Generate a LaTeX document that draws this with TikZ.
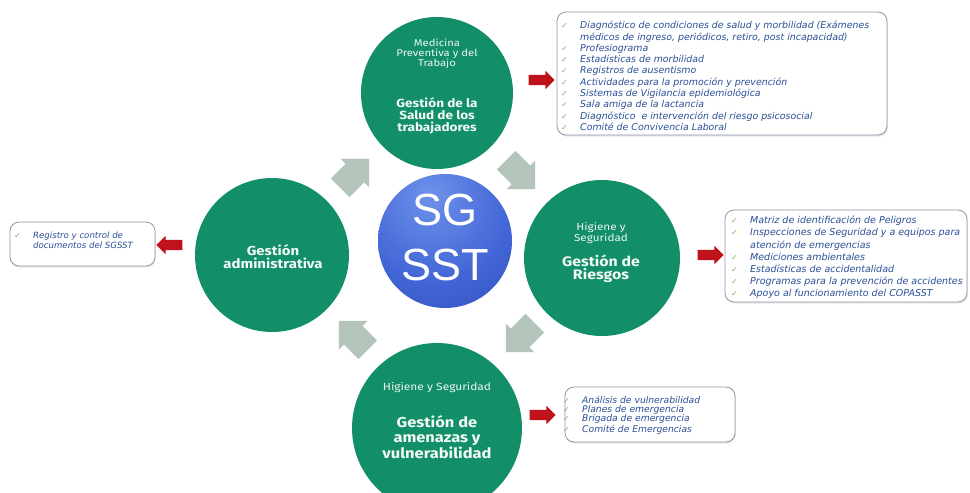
\documentclass[tikz,border=0pt]{standalone}
\usepackage{fontspec}
\setmainfont{Fira Sans}
\newfontfamily\circfont[FakeStretch=1.15]{Fira Sans}
\newfontfamily\listfont{DejaVu Sans}
\newfontfamily\sgfont{Liberation Sans}
\usetikzlibrary{shapes.arrows,shadows}

\definecolor{circgreen}{HTML}{128F68}
\definecolor{flowgray}{HTML}{B3C5BB}
\definecolor{listblue}{HTML}{2A4F96}
\definecolor{tickgreen}{HTML}{7DB86A}
\definecolor{boxedge}{HTML}{8C97A8}
\definecolor{pointred}{HTML}{C0121B}
\definecolor{sgtop}{HTML}{6E92EA}
\definecolor{sgmid}{HTML}{4266D6}
\definecolor{sgbot}{HTML}{2642AA}

\pgfdeclareradialshading{sgball}{\pgfpoint{-6bp}{18bp}}{%
  color(0bp)=(sgtop); color(28bp)=(sgmid); color(62bp)=(sgbot); color(100bp)=(sgbot)}

% one checked line of a list, and the indent of its wrapped continuation
\newcommand\chkline[1]{\makebox[19pt][l]{\upshape\fontsize{8}{8}\selectfont\color{tickgreen}✓}#1}
\newcommand\contline[1]{\hspace*{19pt}#1}

\tikzset{
  stage/.style={circle, fill=circgreen, draw=none, minimum size=#1, inner sep=0pt},
  core/.style={circle, shading=sgball, draw=none, minimum size=#1, inner sep=0pt},
  subtxt/.style n args={2}{text=white!92!circgreen, align=center, inner sep=0pt,
    font=\circfont\fontsize{#1}{#2}\selectfont},
  titletxt/.style n args={2}{text=white!95!circgreen, align=center, inner sep=0pt,
    font=\circfont\bfseries\fontsize{#1}{#2}\selectfont},
  flow/.style={single arrow, fill=flowgray, draw=none, minimum height=41pt,
    single arrow head extend=7pt, inner xsep=0pt, inner ysep=13pt,
    single arrow tip angle=90},
  pointer/.style={single arrow, fill=pointred, draw=none, minimum height=26pt,
    single arrow head extend=4pt, inner xsep=0pt, inner ysep=5pt},
  listbox/.style={draw=boxedge, line width=0.8pt, fill=white, rounded corners=9pt,
    drop shadow={opacity=0.18, shadow xshift=0.8pt, shadow yshift=-1.6pt}},
  listtxt/.style n args={2}{anchor=north west, align=left, inner sep=0pt, text=listblue,
    font=\listfont\itshape\fontsize{#1}{#2}\selectfont},
}

\begin{document}
\begin{tikzpicture}[x=1pt, y=-1pt]
\useasboundingbox[fill=white] (0,0) rectangle (970,493);

% list panels
\draw[listbox] (557,12) rectangle (887,135);
\draw[listbox] (725,210) rectangle (967,302);
\draw[listbox] (565,387) rectangle (735,442);
\draw[listbox] (10,222) rectangle (155,266);

% circular flow arrows between the stages
\node[flow, rotate=45]   (f1) at (350,178) {};
\node[flow, rotate=-45]  (f2) at (516,170) {};
\node[flow, rotate=-135] (f3) at (525,333) {};
\node[flow, rotate=135]  (f4) at (358,340) {};

% stages
\node[stage=152pt] (salud)  at (437,93)  {};
\node[stage=156pt] (riesgo) at (602,258) {};
\node[stage=170pt] (amenaza) at (437,428) {};
\node[stage=154pt] (admin)  at (272,255) {};
\node[core=134pt]  (sg)     at (445,241) {};

\node[text=white, align=center, inner sep=0pt,
      font=\sgfont\fontsize{45}{55}\selectfont] (sgtxt) at (445,238) {SG\\SST};

\node[subtxt={9.8}{10.2}] (saludsub) at (437,54) {Medicina\\Preventiva y del\\Trabajo};
\node[titletxt={11.8}{12.2}] (saludttl) at (437,116) {Gestión de la\\Salud de los\\trabajadores};

\node[subtxt={10.2}{11}] (riesgosub) at (601,233) {Higiene y\\Seguridad};
\node[titletxt={13.8}{13.5}] (riesgottl) at (601,269) {Gestión de\\Riesgos};

\node[subtxt={10.4}{11}] (amenazasub) at (437,388) {Higiene y Seguridad};
\node[titletxt={14.3}{15.5}] (amenazattl) at (437,437) {Gestión de\\amenazas y\\vulnerabilidad};

\node[titletxt={13}{13}] (adminttl) at (273,257) {Gestión\\administrativa};

% pointers from each stage to its list
\node[pointer] (p1) at (539,80) {};
\node[pointer] (p2) at (708,255) {};
\node[pointer] (p3) at (540,415) {};
\node[pointer, rotate=180] (p4) at (172,245) {};

% list contents
\node[listtxt={9.4}{11.3}] (saludlist) at (561,21) {%
  \chkline{Diagnóstico de condiciones de salud y morbilidad (Exámenes}\\
  \contline{médicos de ingreso, periódicos, retiro, post incapacidad)}\\
  \chkline{Profesiograma}\\
  \chkline{Estadísticas de morbilidad}\\
  \chkline{Registros de ausentismo}\\
  \chkline{Actividades para la promoción y prevención}\\
  \chkline{Sistemas de Vigilancia epidemiológica}\\
  \chkline{Sala amiga de la lactancia}\\
  \chkline{Diagnóstico \ e intervención del riesgo psicosocial}\\
  \chkline{Comité de Convivencia Laboral}};

\node[listtxt={9.5}{12.1}] (riesgolist) at (731,216) {%
  \chkline{Matriz de identificación de Peligros}\\
  \chkline{Inspecciones de Seguridad y a equipos para}\\
  \contline{atención de emergencias}\\
  \chkline{Mediciones ambientales}\\
  \chkline{Estadísticas de accidentalidad}\\
  \chkline{Programas para la prevención de accidentes}\\
  \chkline{Apoyo al funcionamiento del COPASST}};

\node[listtxt={9.2}{9.1}] (amenazalist) at (563,396) {%
  \chkline{Análisis de vulnerabilidad}\\
  \chkline{Planes de emergencia}\\
  \chkline{Brigada de emergencia}\\
  \chkline{Comité de Emergencias}};

\node[listtxt={8.6}{10}] (adminlist) at (14,232) {%
  \chkline{Registro y control de}\\
  \contline{documentos del SGSST}};
\end{tikzpicture}
\end{document}
